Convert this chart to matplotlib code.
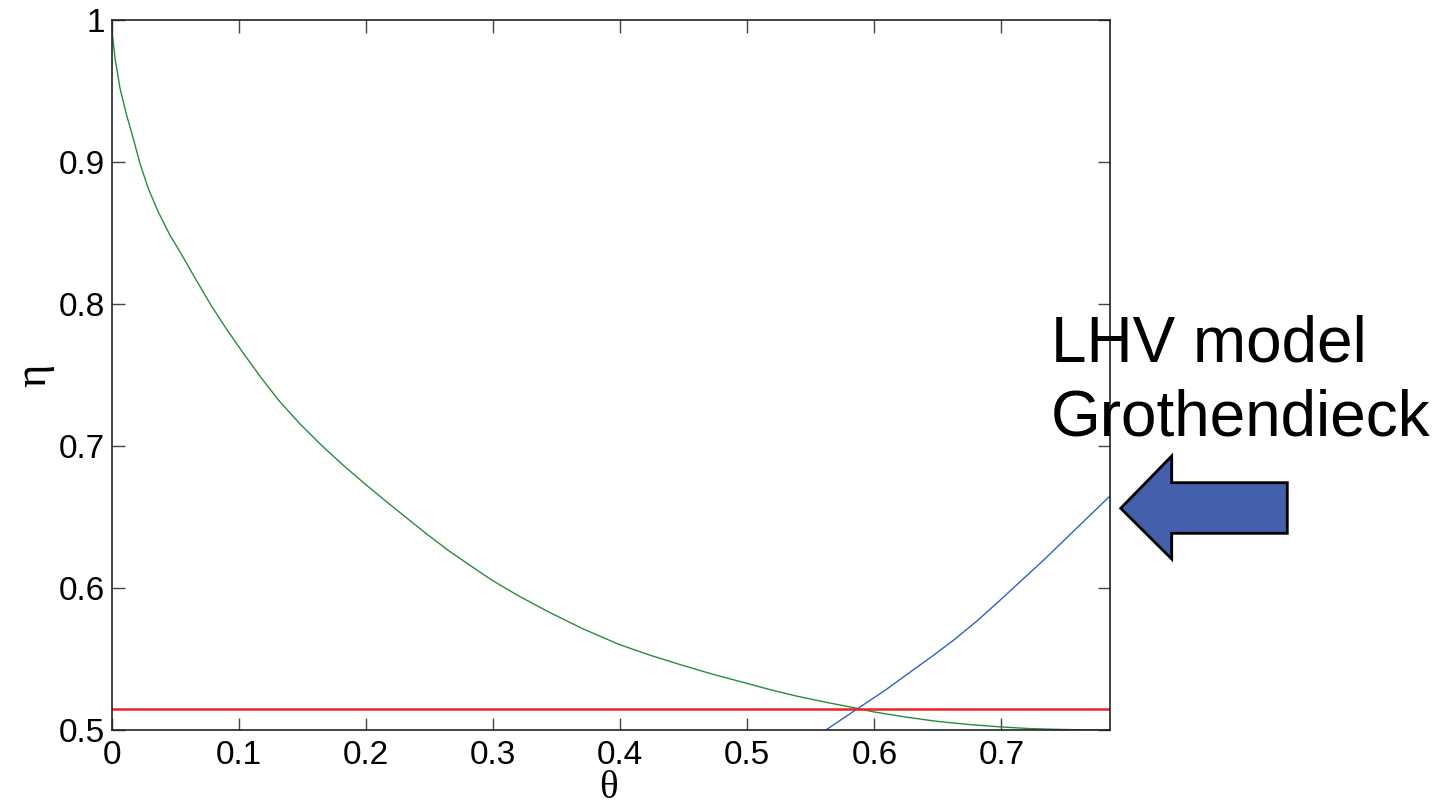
import matplotlib
matplotlib.use('Agg')
import matplotlib.pyplot as plt
from matplotlib.patches import Polygon

# valores
theta_verde = [0.0, 0.0024, 0.0063, 0.0115, 0.0167, 0.022, 0.0285, 0.0363, 0.0455,
               0.0547, 0.0665, 0.078, 0.090, 0.103, 0.117, 0.1318, 0.148, 0.1657,
               0.1825, 0.1998, 0.215, 0.231, 0.248, 0.2651, 0.282, 0.299, 0.3205,
               0.3435, 0.370, 0.3992, 0.423, 0.448, 0.473, 0.499, 0.5196, 0.5396,
               0.5637, 0.5867, 0.5992, 0.624, 0.649, 0.674, 0.699, 0.722, 0.746,
               0.766, 0.7854]
eta_verde = [0.9923, 0.973, 0.9519, 0.933, 0.9167, 0.899, 0.8815, 0.865, 0.8486,
             0.835, 0.8165, 0.799, 0.7825, 0.7658, 0.7485, 0.7315, 0.7155, 0.6998,
             0.686, 0.6728, 0.6615, 0.650, 0.6378, 0.6262, 0.6158, 0.6055, 0.5942,
             0.5832, 0.5715, 0.5602, 0.5528, 0.5458, 0.5392, 0.533, 0.528, 0.5237,
             0.5192, 0.5152, 0.5128, 0.5092, 0.5061, 0.5039, 0.5022, 0.501, 0.5004,
             0.5001, 0.5]

theta_azul = [0.5618, 0.5867, 0.6085, 0.6285, 0.6455, 0.6625, 0.681, 0.699, 0.716,
              0.733, 0.759, 0.7854]
eta_azul = [0.5, 0.515, 0.528, 0.541, 0.552, 0.5634, 0.577, 0.5915, 0.6055,
            0.6195, 0.642, 0.6648]

eta_vermelho = 0.5148

xticks = [0, 0.1, 0.2, 0.3, 0.4, 0.5, 0.6, 0.7]
xtick_labels = ['0', '0.1', '0.2', '0.3', '0.4', '0.5', '0.6', '0.7']
yticks = [0.5, 0.6, 0.7, 0.8, 0.9, 1.0]
ytick_labels = ['0.5', '0.6', '0.7', '0.8', '0.9', '1']

plt.rcParams['font.family'] = ['Liberation Sans', 'DejaVu Sans']

fig = plt.figure(figsize=(14.5, 8.02), dpi=100)
W, H = 1450, 802
ax = fig.add_axes([112 / W, 1 - 730 / H, 998 / W, 710 / H])

ax.plot(theta_verde, eta_verde, color='#2a8a3e', lw=1.0)
ax.plot(theta_azul, eta_azul, color='#2f62c4', lw=1.0)
ax.axhline(eta_vermelho, color='#ee2424', lw=1.8)

ax.set_xlim(0, 0.7854)
ax.set_ylim(0.5, 1)
ax.set_xticks(xticks)
ax.set_xticklabels(xtick_labels)
ax.set_yticks(yticks)
ax.set_yticklabels(ytick_labels)
ax.tick_params(direction='in', length=9, width=1, colors='#444444',
               labelcolor='black', labelsize=24, top=True, right=True)
ax.tick_params(axis='x', pad=7)
ax.tick_params(axis='y', pad=5)
for s in ax.spines.values():
    s.set_linewidth(1.2)
    s.set_color('#222222')

ax.set_xlabel('θ', family='Liberation Serif', fontsize=28, va='center')
ax.xaxis.set_label_coords(0.497, -(788 - 730) / 710)
ax.set_ylabel('η', family='Liberation Serif', fontsize=32, va='center')
ax.yaxis.set_label_coords(-(112 - 34) / 998, 0.50)

# seta
seta_px = [(1120.7, 508.3), (1171.7, 456), (1171.7, 482.7), (1287.3, 482.7),
           (1287.3, 533.3), (1171.7, 533.3), (1171.7, 559)]
seta = [(x / W, 1 - y / H) for x, y in seta_px]
fig.patches.append(Polygon(seta, closed=True, transform=fig.transFigure,
                           facecolor='#4560ab', edgecolor='black', lw=2))

fig.text(1051 / W, 1 - 361 / H, 'LHV model', fontsize=46, ha='left', va='baseline')
fig.text(1051 / W, 1 - 435 / H, 'Grothendieck', fontsize=46, ha='left', va='baseline')

fig.savefig('out.png', dpi=100)
